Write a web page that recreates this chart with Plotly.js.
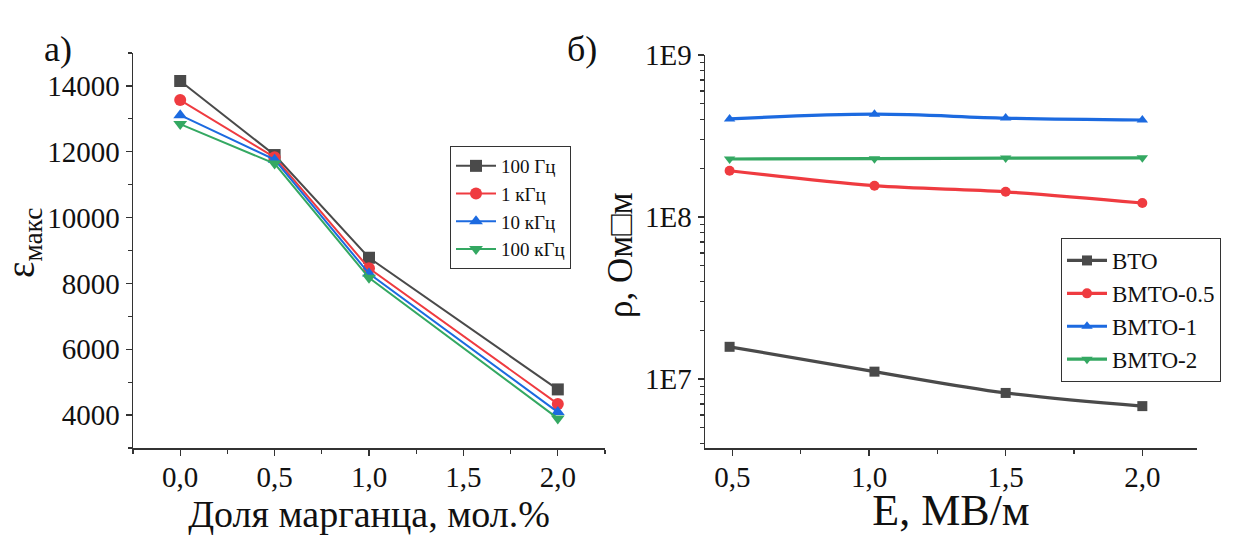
<!DOCTYPE html>
<html>
<head>
<meta charset="utf-8">
<script src="https://cdn.plot.ly/plotly-3.0.1.min.js"></script>
<style>html,body{margin:0;padding:0;background:#fff;}#chart{width:1238px;height:535px;}</style>
</head>
<body>
<div id="chart"></div>
<script>
// Panel a) : peak permittivity vs Mn fraction
const mnFraction = [0.0, 0.5, 1.0, 2.0];
const eps100Hz  = [14150, 11900, 8780, 4780];
const eps1kHz   = [13570, 11830, 8460, 4340];
const eps10kHz  = [13110, 11760, 8300, 4090];
const eps100kHz = [12840, 11640, 8170, 3900];
const freqNames = ['100 Гц', '1 кГц', '10 кГц', '100 кГц'];

// Panel б) : resistivity vs field
const fieldE = [0.49, 1.02, 1.5, 2.0];
const rhoBTO    = [1.58e7, 1.11e7, 8.2e6, 6.8e6];
const rhoBMTO05 = [1.93e8, 1.56e8, 1.43e8, 1.22e8];
const rhoBMTO1  = [4.03e8, 4.31e8, 4.08e8, 3.97e8];
const rhoBMTO2  = [2.28e8, 2.29e8, 2.31e8, 2.32e8];
const sampleNames = ['BTO', 'BMTO-0.5', 'BMTO-1', 'BMTO-2'];

const yTickVals = [4000, 6000, 8000, 10000, 12000, 14000];
const xTickVals = [0.0, 0.5, 1.0, 1.5, 2.0];
const logTickVals = [1e7, 1e8, 1e9];
const logTickText = ['1E7', '1E8', '1E9'];
const xTick2Vals = [0.5, 1.0, 1.5, 2.0];

const colors = ['#4a4a4a', '#ef3b40', '#1c6ae0', '#34a862'];
const symbols = ['square', 'circle', 'triangle-up', 'triangle-down'];
const FONT = '"Liberation Serif", "Times New Roman", serif';

const leftSeries = [eps100Hz, eps1kHz, eps10kHz, eps100kHz];
const rightSeries = [rhoBTO, rhoBMTO05, rhoBMTO1, rhoBMTO2];

const traces = [];
leftSeries.forEach((s, i) => {
  traces.push({
    x: mnFraction, y: s, name: freqNames[i], type: 'scatter', mode: 'lines+markers',
    xaxis: 'x', yaxis: 'y', legend: 'legend',
    line: {color: colors[i], width: 2},
    marker: {symbol: symbols[i], size: 12, color: colors[i]}
  });
});
rightSeries.forEach((s, i) => {
  traces.push({
    x: fieldE, y: s, name: sampleNames[i], type: 'scatter', mode: 'lines+markers',
    xaxis: 'x2', yaxis: 'y2', legend: 'legend2',
    line: {color: colors[i], width: 3.2, shape: 'spline'},
    marker: {symbol: symbols[i], size: 10, color: colors[i]}
  });
});

const axisBase = {
  showline: true, linecolor: '#333', linewidth: 1.5, mirror: false,
  showgrid: false, zeroline: false,
  ticks: 'outside', ticklen: 6, tickwidth: 1.3, tickcolor: '#333',
  tickfont: {family: FONT, size: 29, color: '#111'}
};

const layout = {
  width: 1238, height: 535,
  margin: {l: 0, r: 0, t: 0, b: 0},
  paper_bgcolor: '#fff', plot_bgcolor: '#fff',
  separators: ', ',
  font: {family: FONT, color: '#111'},
  xaxis: Object.assign({}, axisBase, {
    domain: [133/1238, 605/1238], anchor: 'y', range: [-0.25, 2.25],
    tickmode: 'array', tickvals: xTickVals, tickformat: '.1f', ticklabelstandoff: -3,
    minor: {ticks: 'outside', ticklen: 4, tickwidth: 1.2, tickcolor: '#333', dtick: 0.25, tick0: 0},
    title: {text: 'Доля марганца, мол.%', font: {family: FONT, size: 38, color: '#111'}, standoff: 4}
  }),
  yaxis: Object.assign({}, axisBase, {
    domain: [1 - 448/535, 1 - 53/535], anchor: 'x', range: [3000, 15000],
    tickmode: 'array', tickvals: yTickVals, tickformat: 'd',
    minor: {ticks: 'outside', ticklen: 4, tickwidth: 1.2, tickcolor: '#333', dtick: 1000, tick0: 0}
  }),
  xaxis2: Object.assign({}, axisBase, {
    domain: [705/1238, 1197/1238], anchor: 'y2', range: [0.4, 2.2],
    tickmode: 'array', tickvals: xTick2Vals, tickformat: '.1f', ticklabelstandoff: -3,
    minor: {ticks: 'outside', ticklen: 4, tickwidth: 1.2, tickcolor: '#333', dtick: 0.25, tick0: 0},
    title: {text: 'E, МВ/м', font: {family: FONT, size: 44, color: '#111'}, standoff: 4}
  }),
  yaxis2: Object.assign({}, axisBase, {
    domain: [1 - 448/535, 1 - 55/535], anchor: 'x2', type: 'log', range: [6.574, 9],
    tickmode: 'array', tickvals: logTickVals, ticktext: logTickText,
    minor: {ticks: 'outside', ticklen: 4, tickwidth: 1.2, tickcolor: '#333', dtick: 'D1'}
  }),
  legend: {
    x: 450/1238, y: 1 - 146/535, xanchor: 'left', yanchor: 'top',
    bgcolor: '#fff', bordercolor: '#333', borderwidth: 1,
    font: {family: FONT, size: 19, color: '#111'},
    tracegroupgap: 0, itemwidth: 40
  },
  legend2: {
    x: 1061/1238, y: 1 - 238/535, xanchor: 'left', yanchor: 'top',
    bgcolor: '#fff', bordercolor: '#333', borderwidth: 1,
    font: {family: FONT, size: 23, color: '#111'},
    tracegroupgap: 0, itemwidth: 40
  },
  annotations: [
    {text: 'а)', x: 42/1238, y: 1 - 27/535, xref: 'paper', yref: 'paper', showarrow: false,
     font: {family: FONT, size: 36, color: '#111'}},
    {text: 'б)', x: 582/1238, y: 1 - 27/535, xref: 'paper', yref: 'paper', showarrow: false,
     font: {family: FONT, size: 36, color: '#111'}},
    {text: 'ε<sub>макс</sub>', textangle: -90, x: 23/1238, y: 1 - 243/535,
     xref: 'paper', yref: 'paper', xanchor: 'center', yanchor: 'middle', showarrow: false,
     font: {family: FONT, size: 39, color: '#111'}},
    {text: 'ρ, Ом□м', textangle: -90, x: 621/1238, y: 1 - 255/535,
     xref: 'paper', yref: 'paper', xanchor: 'center', yanchor: 'middle', showarrow: false,
     font: {family: FONT, size: 35, color: '#111'}}
  ],
  showlegend: true
};

Plotly.newPlot('chart', traces, layout, {staticPlot: true, displayModeBar: false});
</script>
</body>
</html>
